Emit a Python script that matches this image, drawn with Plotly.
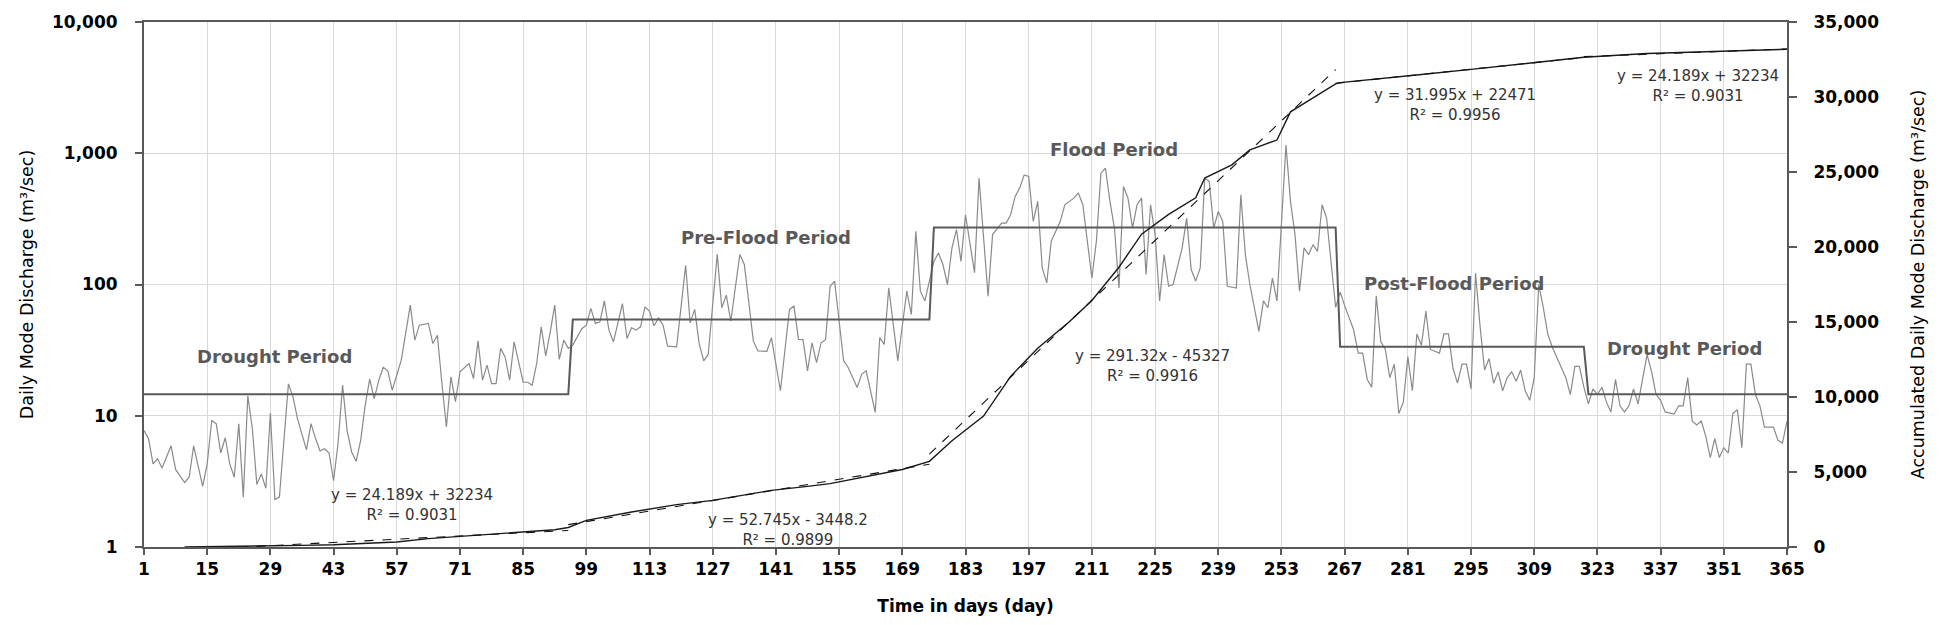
import numpy as np
import plotly.graph_objects as go

# ---------------- data ----------------
daily_days = [1, 2, 3, 4, 5, 7, 8, 10, 11, 12, 14, 15, 16, 17, 18, 19, 20, 21, 22, 23, 24, 25, 26, 27, 28, 29, 30, 31,
              33, 34, 35, 36, 37, 38, 39, 40, 41, 42, 43, 44, 45, 46, 47, 48, 49, 50, 51, 52, 53, 54, 55, 56, 58, 60,
              61, 62, 64, 65, 66, 67, 68, 69, 70, 71, 73, 74, 75, 76, 77, 78, 79, 80, 81, 82, 83, 85, 86, 87, 88, 89,
              90, 91, 92, 93, 94, 95, 96, 98, 99, 100, 101, 102, 103, 104, 105, 107, 108, 109, 110, 111, 112, 113,
              114, 115, 116, 117, 119, 121, 122, 123, 124, 125, 126, 128, 129, 130, 131, 133, 134, 136, 137, 139,
              140, 142, 144, 145, 146, 147, 148, 149, 150, 151, 152, 153, 154, 156, 157, 159, 160, 161, 163, 164,
              165, 166, 168, 169, 170, 171, 172, 173, 174, 176, 177, 178, 179, 180, 181, 182, 183, 185, 186, 188,
              189, 191, 192, 193, 194, 195, 196, 197, 198, 199, 200, 201, 202, 204, 205, 207, 208, 209, 210, 211,
              212, 213, 214, 215, 216, 217, 218, 219, 220, 221, 222, 223, 224, 225, 226, 227, 228, 229, 231, 232,
              233, 234, 235, 236, 237, 238, 239, 240, 241, 243, 244, 245, 246, 248, 249, 250, 251, 252, 254, 255,
              256, 257, 258, 259, 260, 261, 262, 263, 265, 266, 267, 269, 270, 271, 272, 273, 274, 275, 276, 277,
              278, 279, 280, 281, 282, 283, 284, 285, 286, 288, 289, 290, 291, 292, 293, 294, 295, 296, 297, 298,
              299, 300, 301, 302, 303, 304, 305, 306, 307, 308, 309, 310, 311, 312, 313, 315, 316, 317, 318, 319,
              320, 321, 322, 323, 324, 325, 326, 327, 328, 329, 330, 331, 332, 334, 335, 336, 337, 338, 340, 341,
              342, 343, 344, 345, 346, 347, 348, 349, 350, 351, 352, 353, 354, 355, 356, 357, 358, 359, 360, 361,
              362, 363, 364, 365]
daily_values = [7.7, 6.7, 4.3, 4.7, 4.0, 5.9, 3.9, 3.1, 3.4, 5.9, 2.9, 4.3, 9.2, 8.7, 5.2, 6.8, 4.3, 3.4, 8.7, 2.4,
                14.2, 8.0, 3.0, 3.6, 2.8, 10.5, 2.3, 2.4, 17.5, 14, 9.5, 7.2, 5.5, 8.7, 6.7, 5.4, 5.6, 5.2, 3.2,
                6.2, 17.1, 7.7, 5.3, 4.5, 6.5, 12, 19, 13.5, 18.5, 23.4, 22, 15.7, 26.5, 69.7, 37.7, 49, 50.5, 35.5,
                41, 17.6, 8.2, 19.8, 12.8, 21.6, 25, 19.2, 37.2, 18.7, 24.3, 17.6, 17.6, 32.6, 28.1, 18.7, 36.6,
                18, 18, 17.1, 25, 47.6, 28.6, 43.6, 69.7, 26.9, 37.7, 32.6, 34.5, 46, 49, 65.7, 50.5, 51.9, 75.2,
                44.9, 36.6, 71.6, 38.8, 46.8, 44.9, 47.6, 67.6, 62.6, 48.5, 55.7, 49, 33.9, 33.5, 140, 51, 64.6,
                35.5, 26.2, 29.3, 170, 66.5, 83, 52.5, 169, 142, 37, 31.2, 31, 39.4, 15.5, 64.6, 68.4, 38.2, 38,
                22, 36, 25.4, 36, 38, 97, 106, 26.2, 23.3, 16.4, 20.7, 22, 10.6, 39.4, 35, 94.4, 26.2, 48.3, 89,
                59, 254, 89, 75, 150, 174, 142, 100, 190, 262, 150, 340, 123, 646, 81.5, 240, 294, 294, 340, 469,
                542, 684, 665, 303, 430, 134, 103, 214, 303, 405, 455, 497, 405, 214, 112, 214, 705, 769, 430, 269,
                94, 558, 455, 269, 405, 455, 119, 405, 240, 75, 169, 97, 100, 190, 320, 130, 106, 134, 646, 610,
                269, 360, 303, 97, 94, 483, 169, 100, 44, 75, 66.5, 112, 75, 1157, 430, 240, 89, 190, 169, 201,
                179, 405, 321, 67, 87.5, 69, 45, 30, 30, 18.9, 16.5, 82, 36.8, 32.2, 19.5, 24.7, 10.4, 12.7, 28.2,
                15.5, 42, 34.4, 62.7, 32, 30, 42, 42, 23, 17.7, 24.7, 24.7, 16, 122, 48, 22.3, 27.3, 17.7, 21.6,
                15.5, 19.5, 21.6, 18.3, 22.3, 15.5, 13.1, 19.5, 100, 67, 42, 33.3, 23, 19.5, 14.5, 23.8, 23.8,
                16.5, 12.3, 16, 14.5, 16.5, 12.7, 10.7, 18.9, 11.9, 10.7, 11.9, 16, 12.3, 29.2, 21.6, 14.5, 13.1,
                10.7, 10.3, 11.9, 11.9, 19.5, 9.1, 8.5, 9.1, 7, 4.8, 6.7, 4.8, 5.7, 5.2, 10.4, 11.1, 5.7, 24.7,
                24.7, 14.5, 11.9, 8.2, 8.2, 8.2, 6.5, 6.2, 9.1]

period_names = ["Drought Period", "Pre-Flood Period", "Flood Period", "Post-Flood Period", "Drought Period"]
period_start = [1, 96, 176, 266, 321]
period_end = [95, 175, 265, 320, 365]
period_mean = [14.6, 54, 272, 33.5, 14.6]

cum_days = [10, 15, 22, 29, 36, 43, 50, 57, 64, 71, 78, 85, 92, 95, 99, 109, 119, 127, 140, 148, 153, 169, 175,
            180, 187, 193, 199, 206, 211, 217, 222, 228, 234, 236, 242, 246, 252, 255, 262, 265, 266, 275, 284,
            295, 309, 320, 334, 348, 365]
cum_values = [0, 15, 40, 70, 110, 150, 220, 330, 560, 700, 850, 1000, 1150, 1300, 1777, 2333, 2824, 3110, 3778,
              4044, 4222, 5170, 5708, 7080, 8730, 11375, 13250, 15015, 16440, 18650, 20855, 22175, 23275, 24600,
              25480, 26470, 27130, 29010, 30330, 30880, 30960, 31255, 31505, 31840, 32270, 32650, 32900, 33025,
              33180]

equations = ["y = 24.189x + 32234<br>R² = 0.9031", "y = 52.745x - 3448.2<br>R² = 0.9899",
             "y = 291.32x - 45327<br>R² = 0.9916", "y = 31.995x + 22471<br>R² = 0.9956",
             "y = 24.189x + 32234<br>R² = 0.9031"]

x_ticks = list(range(1, 366, 14))
y_ticks = [1, 10, 100, 1000, 10000]
y_ticktext = ["1", "10", "100", "1,000", "10,000"]
y2_ticks = [0, 5000, 10000, 15000, 20000, 25000, 30000, 35000]
y2_ticktext = ["0", "5,000", "10,000", "15,000", "20,000", "25,000", "30,000", "35,000"]

# ---------------- styling / positions ----------------
FONT = "DejaVu Sans"
AXIS = "#595959"
GRID = "#d9d9d9"

label_pos = [(30.0, 0.362), (138.9, 0.589), (215.9, 0.758), (291.2, 0.502), (342.4, 0.379)]
eq_pos = [(60.4, 0.0795), (143.7, 0.032), (224.5, 0.3447), (291.4, 0.8428), (345.3, 0.8788)]

fig = go.Figure()

fig.add_trace(go.Scatter(x=daily_days, y=daily_values, mode="lines",
                         line=dict(color="#8a8a8a", width=1.2), yaxis="y", showlegend=False))

step_x, step_y = [], []
for s, e, m in zip(period_start, period_end, period_mean):
    step_x += [s, e]
    step_y += [m, m]
fig.add_trace(go.Scatter(x=step_x, y=step_y, mode="lines",
                         line=dict(color="#5a5a5a", width=2), yaxis="y", showlegend=False))

fig.add_trace(go.Scatter(x=cum_days, y=cum_values, mode="lines",
                         line=dict(color="#1a1a1a", width=1.4), yaxis="y2", showlegend=False))

cd = np.array(cum_days, dtype=float)
cv = np.array(cum_values, dtype=float)
for s, e in zip(period_start, period_end):
    sel = (cd >= s - 1) & (cd <= e)
    k, b = np.polyfit(cd[sel], cv[sel], 1)
    xs = np.array([cd[sel].min(), cd[sel].max()])
    fig.add_trace(go.Scatter(x=xs, y=k * xs + b, mode="lines",
                             line=dict(color="#111111", width=1.1, dash="dash"), yaxis="y2",
                             showlegend=False))

annotations = []
for name, (px, py) in zip(period_names, label_pos):
    annotations.append(dict(x=px, y=py, xref="x", yref="paper", text=name, showarrow=False,
                            xanchor="center", yanchor="middle",
                            font=dict(family=FONT, size=18, color="#595959", weight="bold")))
for eq, (px, py) in zip(equations, eq_pos):
    annotations.append(dict(x=px, y=py, xref="x", yref="paper", text=eq, showarrow=False, align="center",
                            xanchor="center", yanchor="middle",
                            font=dict(family=FONT, size=15, color="#333333")))

tickfont = dict(family=FONT, size=17, color="#000000", weight="bold")

fig.update_layout(
    width=1941, height=625,
    margin=dict(l=144, r=154, t=19, b=78),
    paper_bgcolor="white", plot_bgcolor="white",
    font=dict(family=FONT, color="#000000"),
    showlegend=False,
    annotations=annotations,
    xaxis=dict(range=[1, 365], tickvals=x_ticks, showgrid=True, gridcolor=GRID, gridwidth=1,
               showline=True, linecolor=AXIS, linewidth=2, mirror=True, zeroline=False,
               ticks="outside", ticklen=6, tickcolor=AXIS, tickwidth=1.5, tickfont=tickfont,
               title=dict(text="Time in days (day)", font=dict(family=FONT, size=17, weight="bold"), standoff=22)),
    yaxis=dict(type="log", range=[0, 4], tickvals=y_ticks, ticktext=y_ticktext, showgrid=True,
               gridcolor=GRID, gridwidth=1, showline=True, linecolor=AXIS, linewidth=2, zeroline=False,
               ticks="outside", ticklen=7, tickcolor=AXIS, tickwidth=1.5, tickfont=tickfont,
               ticklabelstandoff=14,
               title=dict(text="Daily Mode Discharge (m³/sec)", font=dict(family=FONT, size=17.5), standoff=14)),
    yaxis2=dict(overlaying="y", side="right", range=[0, 35000], tickvals=y2_ticks, ticktext=y2_ticktext,
                showgrid=False, showline=True, linecolor=AXIS, linewidth=2, zeroline=False,
                ticks="outside", ticklen=8, tickcolor=AXIS, tickwidth=1.5, tickfont=tickfont,
                ticklabelstandoff=13,
                title=dict(text="Accumulated Daily Mode Discharge (m³/sec)", font=dict(family=FONT, size=17.5),
                           standoff=34)),
)

fig.write_html("out.html", config={"displayModeBar": False},
               post_script="document.body.style.margin='0px';")
